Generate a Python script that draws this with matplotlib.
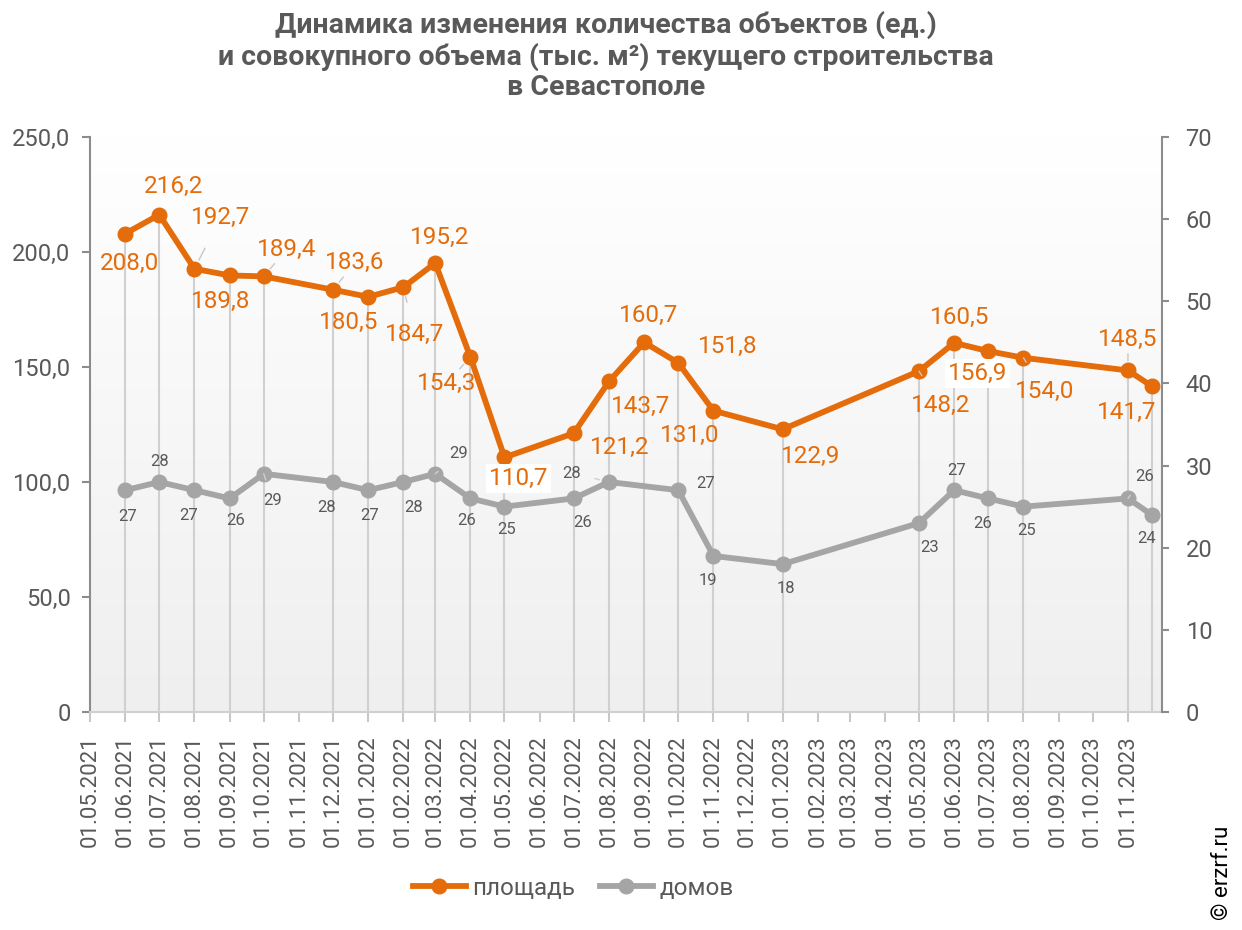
import numpy as np
import pandas as pd
import matplotlib
matplotlib.use("Agg")
import matplotlib.pyplot as plt
from matplotlib.ticker import FuncFormatter, MultipleLocator

plt.rcParams["font.family"] = ["Roboto", "DejaVu Sans"]

# данные
area_dates = [
    "2021-06-01", "2021-07-01", "2021-08-01", "2021-09-01", "2021-10-01",
    "2021-12-01", "2022-01-01", "2022-02-01", "2022-03-01", "2022-04-01",
    "2022-05-01", "2022-07-01", "2022-08-01", "2022-09-01", "2022-10-01",
    "2022-11-01", "2023-01-01", "2023-05-01", "2023-06-01", "2023-07-01",
    "2023-08-01", "2023-11-01", "2023-11-22",
]
area = [208.0, 216.2, 192.7, 189.8, 189.4, 183.6, 180.5, 184.7, 195.2, 154.3,
        110.7, 121.2, 143.7, 160.7, 151.8, 131.0, 122.9, 148.2, 160.5, 156.9,
        154.0, 148.5, 141.7]

houses_dates = [
    "2021-06-01", "2021-07-01", "2021-08-01", "2021-09-01", "2021-10-01",
    "2021-12-01", "2022-01-01", "2022-02-01", "2022-03-01", "2022-04-01",
    "2022-05-01", "2022-07-01", "2022-08-01", "2022-10-01",
    "2022-11-01", "2023-01-01", "2023-05-01", "2023-06-01", "2023-07-01",
    "2023-08-01", "2023-11-01", "2023-11-22",
]
houses = [27, 28, 27, 26, 29, 28, 27, 28, 29, 26, 25, 26, 28, 27, 19, 18,
          23, 27, 26, 25, 26, 24]

# смещения подписей (пиксели) и выноски
area_offsets = [(4, -30), (14, 28), (26, 51), (-9, -26), (23, 27), (22, 27),
                (-20, -26), (11, -47), (4, 26), (-24, -26), (14, -21),
                (46, -14), (32, -25), (4, 27), (49, 16), (-24, -25),
                (28, -27), (22, -34), (5, 25), (-11, -22), (21, -34),
                (0, 31), (-25, -26)]
area_leaders = {2, 4, 5, 7, 9, 17, 20, 21}
house_offsets = [(2, -26), (0, 21), (-6, -25), (6, -22), (9, -27), (-6, -25),
                 (1, -25), (10, -25), (23, 20), (-4, -22), (2, -23), (9, -24),
                 (-37, 9), (27, 7), (-6, -25), (3, -24), (11, -24), (2, 20),
                 (-6, -25), (3, -24), (17, 22), (-5, -24)]
house_leaders = {4, 8, 12, 20}

ORANGE = "#E46C0A"
GRAY = "#A5A5A5"
TXT = "#595959"

area_x = pd.to_datetime(area_dates)
houses_x = pd.to_datetime(houses_dates)

fig = plt.figure(figsize=(12.42, 9.30), dpi=100)
ax = fig.add_axes([90 / 1242, 218 / 930, 1072 / 1242, 575 / 930])
ax2 = ax.twinx()

# фон с градиентом
grad = np.linspace(1, 0, 256).reshape(-1, 1)
ax.imshow(grad, extent=[0, 1, 0, 1], transform=ax.transAxes, aspect="auto",
          cmap=matplotlib.colors.LinearSegmentedColormap.from_list(
              "bg", ["#EFEFEF", "#FFFFFF"]), zorder=0)

ax.set_xlim(pd.Timestamp("2021-05-01"), pd.Timestamp("2023-12-01"))
ax.set_ylim(0, 250)
ax2.set_ylim(0, 70)

# линии проекции
ax.vlines(area_x, 0, area, color="#D0D0D0", lw=1.5, zorder=1)

ax.plot(area_x, area, color=ORANGE, lw=4.2, marker="o", ms=10.5, zorder=5,
        label="площадь")
ax2.plot(houses_x, houses, color=GRAY, lw=4.2, marker="o", ms=10.5, zorder=5,
         label="домов")

for i, (d, v) in enumerate(zip(area_x, area)):
    dx, dy = area_offsets[i]
    props = None
    if i in area_leaders:
        props = dict(arrowstyle="-", color="#C8C8C8", lw=1, shrinkA=13,
                     shrinkB=7)
    bbox = None
    if v in (110.7, 156.9):
        bbox = dict(boxstyle="square,pad=0.12", fc="white", ec="none")
    ax.annotate(f"{v:.1f}".replace(".", ","), (d, v), xytext=(dx, dy),
                textcoords="offset pixels", ha="center", va="center",
                fontsize=17.5, color=ORANGE, arrowprops=props, bbox=bbox,
                zorder=6)

for i, (d, v) in enumerate(zip(houses_x, houses)):
    dx, dy = house_offsets[i]
    props = None
    if i in house_leaders:
        props = dict(arrowstyle="-", color="#D0D0D0", lw=1, shrinkA=8,
                     shrinkB=7)
    ax2.annotate(str(v), (d, v), xytext=(dx, dy), textcoords="offset pixels",
                 ha="center", va="center", fontsize=12, color=TXT,
                 arrowprops=props, zorder=6)

# оси
ticks = pd.date_range("2021-05-01", "2023-11-01", freq="MS")
ax.set_xticks(ticks)
ax.set_xticklabels([t.strftime("%d.%m.%Y") for t in ticks], rotation=90)
ax.yaxis.set_major_locator(MultipleLocator(50))
ax.yaxis.set_major_formatter(FuncFormatter(
    lambda v, p: "0" if v == 0 else f"{v:.1f}".replace(".", ",")))
ax2.yaxis.set_major_locator(MultipleLocator(10))

for a in (ax, ax2):
    for s in a.spines.values():
        s.set_visible(False)
ax.spines["left"].set_visible(True)
ax.spines["left"].set_color("#8C8C8C")
ax.spines["left"].set_linewidth(1.5)
ax.spines["bottom"].set_visible(True)
ax.spines["bottom"].set_color("#D0D0D0")
ax.spines["bottom"].set_linewidth(1.5)
ax2.spines["right"].set_visible(True)
ax2.spines["right"].set_color("#8C8C8C")
ax2.spines["right"].set_linewidth(1.5)

ax.tick_params(axis="y", colors="#8C8C8C", labelcolor=TXT, labelsize=17,
               length=6, width=1.5, pad=8)
ax.tick_params(axis="x", colors="#C8C8C8", labelcolor=TXT, labelsize=16,
               length=7, width=1.5, pad=10)
ax2.tick_params(axis="y", colors="#8C8C8C", labelcolor=TXT, labelsize=17,
                length=5, width=1.5, pad=12)

fig.text(606 / 1242, 1 - 56 / 930,
         "Динамика изменения количества объектов (ед.)\n"
         "и совокупного объема (тыс. м²) текущего строительства\n"
         "в Севастополе",
         ha="center", va="center", fontsize=20.5, fontweight="bold",
         color=TXT, linespacing=1.15)

h1, l1 = ax.get_legend_handles_labels()
h2, l2 = ax2.get_legend_handles_labels()
fig.legend(h1 + h2, l1 + l2, loc="center",
           bbox_to_anchor=(573 / 1242, 1 - 888 / 930),
           ncol=2, frameon=False, fontsize=17.5, labelcolor=TXT,
           handlelength=2.2, columnspacing=1.0, handletextpad=0.25)

fig.text(1222 / 1242, 1 - 873 / 930, "© erzrf.ru", rotation=90,
         ha="center", va="center", fontsize=16, color="black")

fig.savefig("out.png", dpi=100)
